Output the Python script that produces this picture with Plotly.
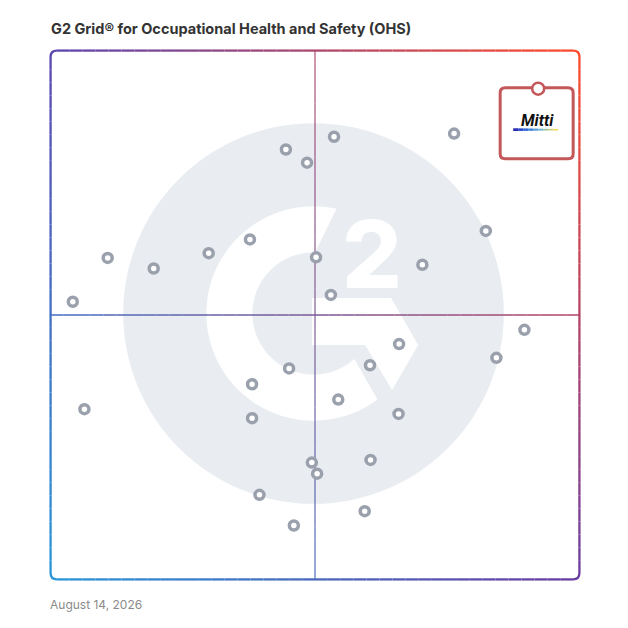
import numpy as np
import plotly.graph_objects as go

# -------------------------------------------------
# Data (0-100 grid: x = market presence, y = satisfaction)
# -------------------------------------------------
x_vals = [53.6, 76.3, 44.5, 48.5, 82.3, 37.7, 29.9, 50.2, 70.3, 19.5,
          53.0, 65.9, 84.3, 60.4, 45.1, 38.1, 54.4, 65.8, 38.1, 60.5,
          49.4, 50.4, 39.5, 59.4, 46.0, 10.8, 4.2, 89.6, 6.4]
y_vals = [83.7, 84.3, 81.3, 78.8, 65.9, 64.3, 61.7, 60.9, 59.5, 58.8,
          53.8, 44.5, 41.9, 40.5, 39.9, 36.9, 34.0, 31.3, 30.5, 22.6,
          22.1, 20.0, 16.0, 12.9, 10.2, 60.8, 52.5, 47.2, 32.2]
mitti_x = [92.2]
mitti_y = [92.8]
mitti_label = "Mitti"

TITLE = "G2 Grid® for Occupational Health and Safety (OHS)"
DATE_TEXT = "August 14, 2026"

# -------------------------------------------------
# Geometry / style helpers
# -------------------------------------------------
W = H = 628
OFF = 8              # page body margin
PX = 5.28            # pixels per grid unit
PAD = 2              # axis padding so border isn't clipped
ML = 51 - OFF - PAD * PX
MT = 51 - OFF - PAD * PX
MR = W - (579 - OFF) - PAD * PX
MB = H - (579 - OFF) - PAD * PX

TL = (91, 70, 176)
TR = (255, 76, 44)
BL = (42, 150, 216)
BR = (106, 60, 160)


def mix(a, b, t):
    return tuple(a[i] + (b[i] - a[i]) * t for i in range(3))


def grad(u, v):
    """bilinear colour over the frame, u left->right, v bottom->top"""
    top = mix(TL, TR, u)
    bot = mix(BL, BR, u)
    c = mix(bot, top, v)
    return "rgb(%d,%d,%d)" % tuple(int(round(k)) for k in c)


shapes = []

# watermark circle
cx, cy = (313.5 - 51) / PX, (579 - 313.5) / PX
R = 190 / PX
shapes.append(dict(type="circle", xref="x", yref="y", layer="below",
                   x0=cx - R, x1=cx + R, y0=cy - R, y1=cy + R,
                   fillcolor="#e9ecf0", line=dict(width=0)))


def pol(r, ang):
    a = np.radians(ang)
    return cx + r * np.cos(a), cy + r * np.sin(a)


r_out, r_in = 107 / PX, 61 / PX
pts = [pol(r_out, a) for a in np.linspace(77.6, 306.6, 80)]
pts += [pol(r_in, a) for a in np.linspace(311.9, 88.6, 60)]
g_path = "M " + " L ".join("%.3f,%.3f" % p for p in pts) + " Z"
shapes.append(dict(type="path", xref="x", yref="y", layer="below",
                   path=g_path, fillcolor="white", line=dict(width=0)))

chev_px = [(312, 298), (391, 298), (418, 345), (392, 390), (365, 345), (312, 345)]
chev = [((px - 51) / PX, (579 - py) / PX) for px, py in chev_px]
shapes.append(dict(type="path", xref="x", yref="y", layer="below",
                   path="M " + " L ".join("%.3f,%.3f" % p for p in chev) + " Z",
                   fillcolor="white", line=dict(width=0)))

# gradient border
rc = 1.2
N = 40
for i in range(N):
    a = rc + (100 - 2 * rc) * i / N
    b = rc + (100 - 2 * rc) * (i + 1) / N
    m = (a + b) / 2 / 100
    for (x0, y0, x1, y1, col) in [
        (0, a, 0, b, grad(0, m)),
        (100, a, 100, b, grad(1, m)),
        (a, 100, b, 100, grad(m, 1)),
        (a, 0, b, 0, grad(m, 0)),
    ]:
        shapes.append(dict(type="line", xref="x", yref="y", layer="below",
                           x0=x0, y0=y0, x1=x1, y1=y1,
                           line=dict(color=col, width=2.3)))

corners = [
    ("M 0,%f Q 0,100 %f,100" % (100 - rc, rc), grad(0, 1)),
    ("M %f,100 Q 100,100 100,%f" % (100 - rc, 100 - rc), grad(1, 1)),
    ("M 100,%f Q 100,0 %f,0" % (rc, 100 - rc), grad(1, 0)),
    ("M %f,0 Q 0,0 0,%f" % (rc, rc), grad(0, 0)),
]
for p, col in corners:
    shapes.append(dict(type="path", xref="x", yref="y", layer="below",
                       path=p, line=dict(color=col, width=2.3)))

# quadrant dividers
for i in range(N):
    a = 100 * i / N
    b = 100 * (i + 1) / N
    m = (a + b) / 2 / 100
    shapes.append(dict(type="line", xref="x", yref="y", layer="below",
                       x0=50, x1=50, y0=a, y1=b, opacity=0.72,
                       line=dict(color=grad(0.5, m), width=1.6)))
    shapes.append(dict(type="line", xref="x", yref="y", layer="below",
                       x0=a, x1=b, y0=50, y1=50, opacity=1.0,
                       line=dict(color=grad(m, 0.5), width=1.5)))

# Mitti pin box (pixel offsets from the data point)
RED = "#c4575a"
box = ("M -33,1 L 30,1 Q 35,1 35,-4 L 35,-65 Q 35,-70 30,-70 "
       "L -33,-70 Q -38,-70 -38,-65 L -38,-4 Q -38,1 -33,1 Z")
shapes.append(dict(type="path", xref="x", yref="y",
                   xsizemode="pixel", ysizemode="pixel",
                   xanchor=mitti_x[0], yanchor=mitti_y[0],
                   path=box, fillcolor="white", line=dict(color=RED, width=3)))
shapes.append(dict(type="circle", xref="x", yref="y",
                   xsizemode="pixel", ysizemode="pixel",
                   xanchor=mitti_x[0], yanchor=mitti_y[0],
                   x0=-6, x1=6, y0=-6, y1=6,
                   fillcolor="white", line=dict(color=RED, width=2.5)))
swoosh = [(43, 47, 181), (47, 120, 225), (120, 190, 200), (243, 213, 74)]
NS = 9
for i in range(NS):
    t = i / (NS - 1)
    seg = t * (len(swoosh) - 1)
    k = min(int(seg), len(swoosh) - 2)
    c = mix(swoosh[k], swoosh[k + 1], seg - k)
    xa = -25 + 45 * i / NS
    xb = -25 + 45 * (i + 1) / NS
    shapes.append(dict(type="line", xref="x", yref="y",
                       xsizemode="pixel", ysizemode="pixel",
                       xanchor=mitti_x[0], yanchor=mitti_y[0],
                       x0=xa, x1=xb, y0=-41, y1=-41,
                       line=dict(color="rgb(%d,%d,%d)" % c, width=2.8 - 1.4 * t)))

# -------------------------------------------------
# Figure
# -------------------------------------------------
fig = go.Figure()
fig.add_trace(go.Scatter(
    x=x_vals, y=y_vals, mode="markers", hoverinfo="skip", cliponaxis=False,
    marker=dict(size=9, color="white", line=dict(color="#9aa1ad", width=3.5)),
))

annotations = [
    dict(x=(371.8 - 51) / PX, y=(579 - 254) / PX, xref="x", yref="y",
         text="2", showarrow=False, xanchor="center", yanchor="middle",
         font=dict(family="Inter", size=94, color="white", weight=800)),
    dict(x=mitti_x[0], y=mitti_y[0], xref="x", yref="y", yshift=-32, xshift=-1,
         text="<b><i>%s</i></b>" % mitti_label, showarrow=False,
         font=dict(family="Roboto", size=16, color="#111111")),
    dict(x=(51 - OFF - ML) / (W - ML - MR), y=(H - MB - (604 - OFF)) / (H - MT - MB),
         xref="paper", yref="paper", xanchor="left", yanchor="middle", xshift=-3,
         text=DATE_TEXT, showarrow=False,
         font=dict(family="Inter", size=12, color="#8a8a8a")),
]

fig.update_layout(
    width=W, height=H,
    margin=dict(l=ML, r=MR, t=MT, b=MB),
    paper_bgcolor="white", plot_bgcolor="white",
    showlegend=False,
    title=dict(text="<b>%s</b>" % TITLE, x=(51 - OFF) / W, xanchor="left",
               y=1 - (29 - OFF) / H, yanchor="middle",
               font=dict(family="Inter", size=14.5, color="#333333")),
    xaxis=dict(range=[-PAD, 100 + PAD], visible=False, fixedrange=True),
    yaxis=dict(range=[-PAD, 100 + PAD], visible=False, fixedrange=True),
    shapes=shapes,
    annotations=annotations,
)

fig.write_html("out.html")
